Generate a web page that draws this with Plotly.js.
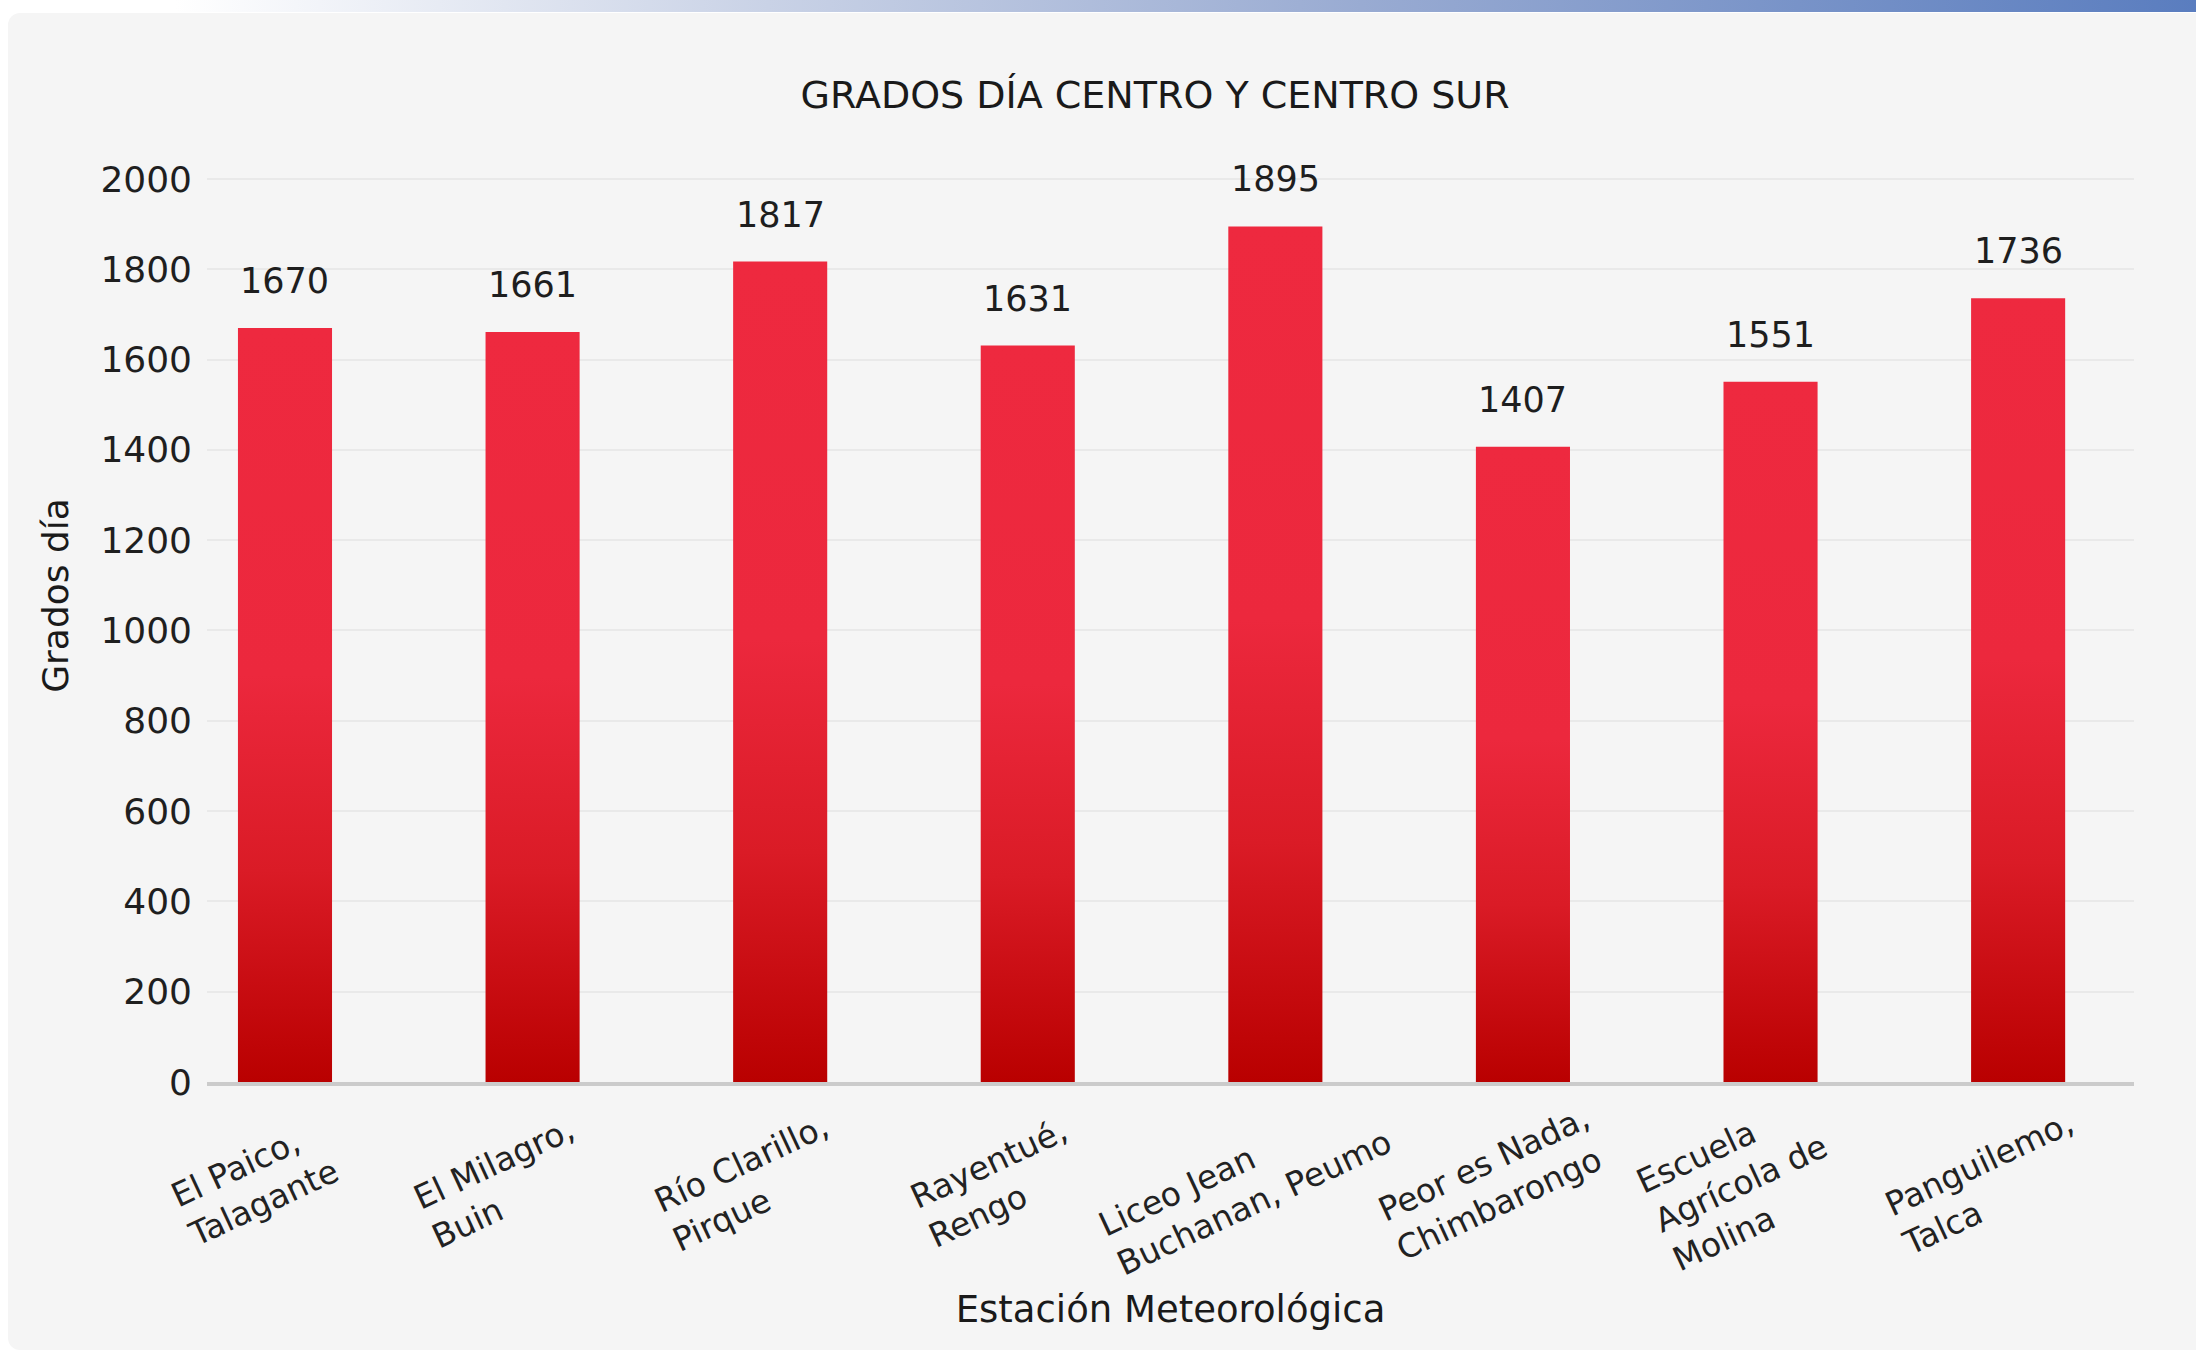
<!DOCTYPE html>
<html>
<head>
<meta charset="utf-8">
<script src="https://cdn.plot.ly/plotly-3.0.1.min.js"></script>
<style>
  html, body { margin: 0; padding: 0; background: #ffffff; width: 2196px; height: 1352px; overflow: hidden; }
  #strip { position: absolute; left: 0; top: 0; width: 2196px; height: 12px;
           background: linear-gradient(to right, #ffffff 0%, #ffffff 8%, #c9d2e6 35%, #99abd2 62%, #5a7dbf 100%); }
  #card { position: absolute; left: 8px; top: 13px; width: 2200px; height: 1337px; background: #f5f5f5; border-radius: 12px; }
  #chart { position: absolute; left: 0; top: 0; width: 2196px; height: 1352px; }
</style>
</head>
<body>
<div id="strip"></div>
<div id="card"></div>
<div id="chart"></div>
<script>
// ---- data ----
const categories = [
  "El Paico, Talagante",
  "El Milagro, Buin",
  "Río Clarillo, Pirque",
  "Rayentué, Rengo",
  "Liceo Jean Buchanan, Peumo",
  "Peor es Nada, Chimbarongo",
  "Escuela Agrícola de Molina",
  "Panguilemo, Talca"
];
const tickLabels = [
  "El Paico,<br>Talagante",
  "El Milagro,<br>Buin",
  "Río Clarillo,<br>Pirque",
  "Rayentué,<br>Rengo",
  "Liceo Jean<br>Buchanan, Peumo",
  "Peor es Nada,<br>Chimbarongo",
  "Escuela<br>Agrícola de<br>Molina",
  "Panguilemo,<br>Talca"
];
const gradosDia = [1670, 1661, 1817, 1631, 1895, 1407, 1551, 1736];
const yTicks = [0, 200, 400, 600, 800, 1000, 1200, 1400, 1600, 1800, 2000];

const chartTitle = "GRADOS DÍA CENTRO Y CENTRO SUR";
const xTitle = "Estación Meteorológica";
const yTitle = "Grados día";

// ---- chart ----
const FONT = "DejaVu Sans, Verdana, sans-serif";

const trace = {
  type: "bar",
  x: categories,
  y: gradosDia,
  width: 0.38,
  marker: { color: "#e8263a", line: { width: 0 } },
  hoverinfo: "x+y"
};

// value labels above the bars
const valueLabels = categories.map((c, i) => ({
  x: c, y: gradosDia[i], xref: "x", yref: "y",
  text: String(gradosDia[i]),
  showarrow: false, yanchor: "bottom", yshift: 25,
  font: { family: FONT, size: 35, color: "#1e1e1e" }
}));

// rotated, left-aligned category labels under the axis
const categoryLabels = categories.map((c, i) => ({
  x: c, y: 0, xref: "x", yref: "y",
  text: tickLabels[i],
  showarrow: false, textangle: -25, align: "left",
  xanchor: "center", yanchor: "middle", xshift: -30, yshift: -101,
  font: { family: FONT, size: 33, color: "#222222" }
}));

const layout = {
  width: 2196, height: 1352,
  margin: { l: 207, r: 62, t: 109, b: 270, autoexpand: false },
  paper_bgcolor: "rgba(0,0,0,0)",
  plot_bgcolor: "rgba(0,0,0,0)",
  font: { family: FONT, color: "#222222" },
  showlegend: false,
  title: {
    text: chartTitle, xref: "container", x: 0.526, yref: "container", y: 0.93,
    xanchor: "center", yanchor: "middle",
    font: { family: FONT, size: 38, color: "#1a1a1a" }
  },
  xaxis: {
    type: "category",
    range: [-0.315, 7.468],
    showticklabels: false,
    showgrid: false, zeroline: false,
    showline: true, linecolor: "#cbcbcb", linewidth: 4,
    ticks: "",
    automargin: false,
    title: { text: xTitle, standoff: 212, font: { family: FONT, size: 37, color: "#1a1a1a" } }
  },
  yaxis: {
    range: [0, 2155],
    tickvals: yTicks,
    ticktext: yTicks.map(String),
    tickfont: { family: FONT, size: 36, color: "#1f1f1f" },
    showgrid: true, gridcolor: "#e9e9e9", gridwidth: 2,
    zeroline: false, showline: false, ticks: "",
    ticklabelstandoff: 14,
    automargin: false,
    title: { text: yTitle, standoff: 20, font: { family: FONT, size: 36, color: "#1a1a1a" } }
  },
  annotations: valueLabels.concat(categoryLabels)
};

function applyGradient(gd) {
  const svg = gd.querySelector(".main-svg");
  if (!svg) return;
  let defs = svg.querySelector("defs");
  if (!defs) { defs = document.createElementNS("http://www.w3.org/2000/svg", "defs"); svg.insertBefore(defs, svg.firstChild); }
  if (!svg.querySelector("#barGrad")) {
    const ns = "http://www.w3.org/2000/svg";
    const lg = document.createElementNS(ns, "linearGradient");
    lg.setAttribute("id", "barGrad");
    lg.setAttribute("x1", "0"); lg.setAttribute("y1", "0");
    lg.setAttribute("x2", "0"); lg.setAttribute("y2", "1");
    [["0", "#ee293f"], ["0.46", "#ec283d"], ["0.72", "#da1b26"], ["1", "#b90000"]].forEach(([o, c]) => {
      const s = document.createElementNS(ns, "stop");
      s.setAttribute("offset", o); s.setAttribute("stop-color", c);
      lg.appendChild(s);
    });
    defs.appendChild(lg);
  }
  gd.querySelectorAll(".barlayer .point path").forEach(p => { p.style.fill = "url(#barGrad)"; });
}

const gd = document.getElementById("chart");
Plotly.newPlot(gd, [trace], layout, { staticPlot: true, displayModeBar: false }).then(() => {
  applyGradient(gd);
  gd.on && gd.on("plotly_afterplot", () => applyGradient(gd));
});
</script>
</body>
</html>
